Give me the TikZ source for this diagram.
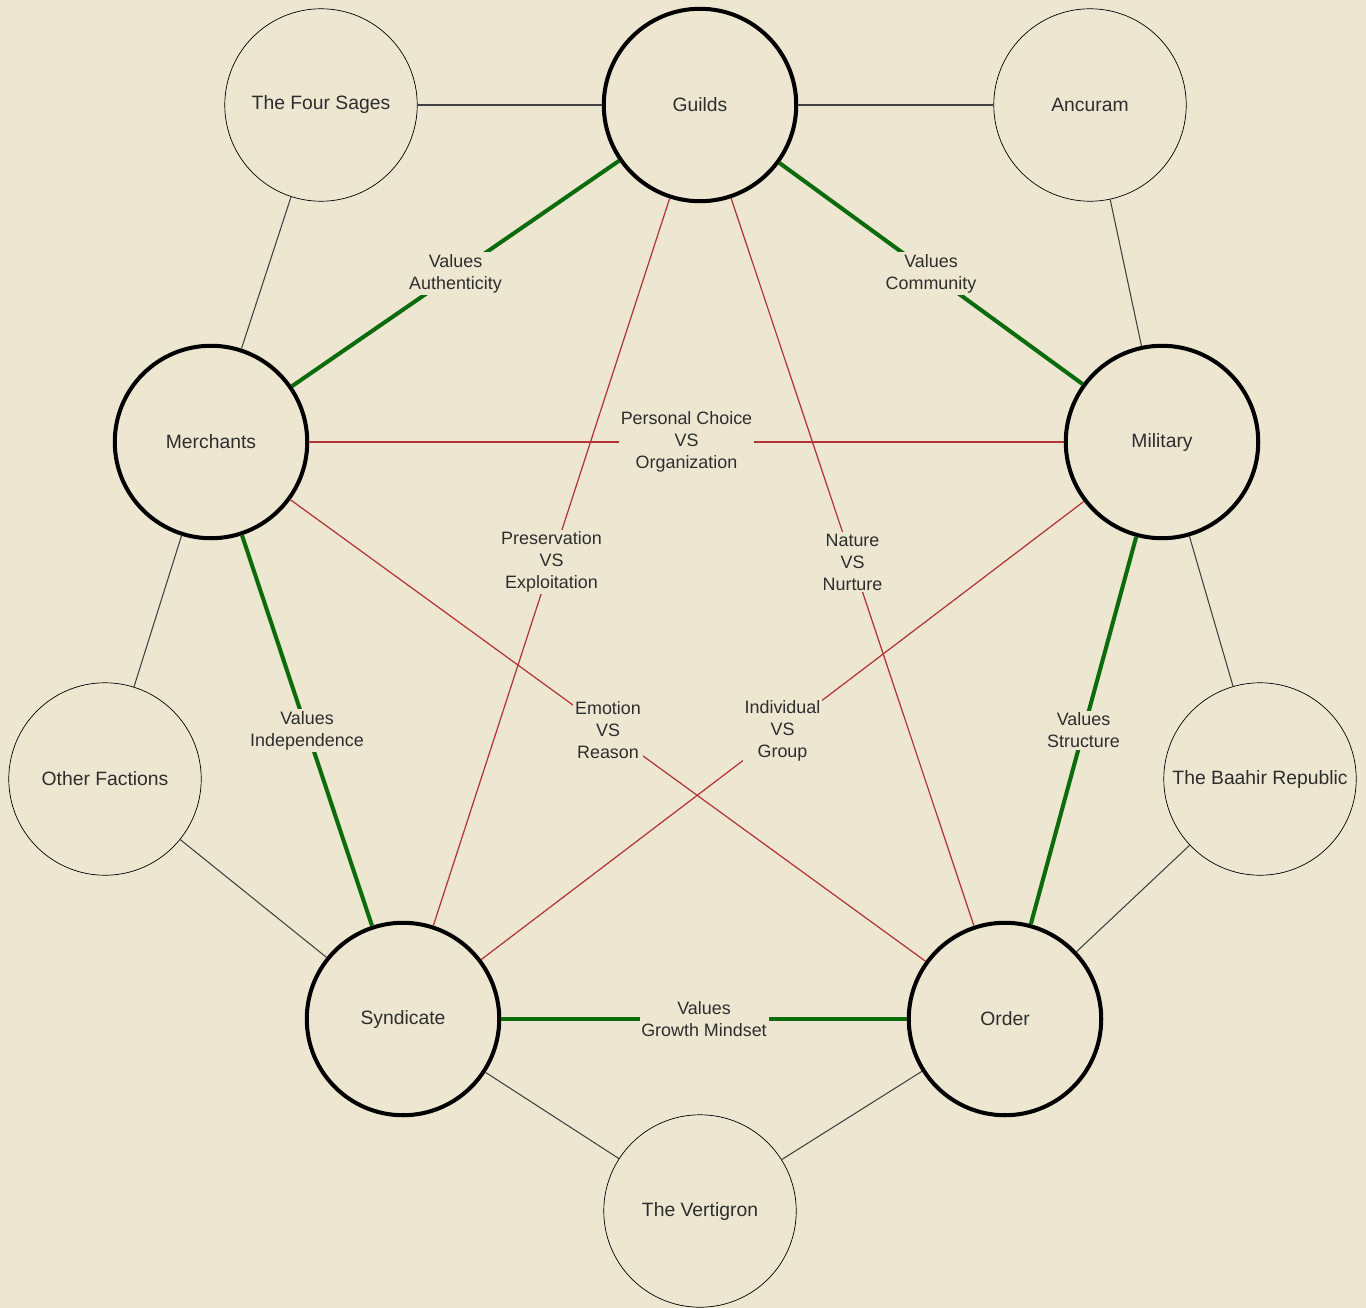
\documentclass[tikz,border=0pt]{standalone}
\usepackage{fontspec}
\setmainfont{Liberation Sans}
\definecolor{parchment}{RGB}{237,231,210}
\definecolor{valgreen}{RGB}{12,108,12}
\definecolor{vsred}{RGB}{178,52,52}
\definecolor{inkgray}{RGB}{45,45,45}
\begin{document}
\begin{tikzpicture}[
  x = 0.02cm, y = -0.02cm,
  every node/.style = {text=inkgray},
  faction/.style    = {draw, circle, thin, minimum size=3.85cm, inner sep=0pt,
                       font=\fontsize{11}{13}\selectfont},
  core/.style       = {faction, line width=2.3pt},
  link/.style       = {draw, line width=0.6pt, black!75},
  shared/.style     = {draw, line width=2.3pt, valgreen},
  opposed/.style    = {draw, line width=0.7pt, vsred},
  tag/.style        = {fill=parchment, inner sep=1pt, align=center,
                       font=\fontsize{10.2}{12.5}\selectfont},
]
\fill[parchment] (0,0) rectangle (1366,1308);
\useasboundingbox (0,0) rectangle (1366,1308);

% top row
\node[faction] (sages)    at ( 321,  105) {The Four Sages};
\node[core]    (guilds)   at ( 700,  105) {Guilds};
\node[faction] (ancuram)  at (1090,  105) {Ancuram};
% middle row
\node[core]    (merchants) at ( 211,  442) {Merchants};
\node[core]    (military)  at (1162,  442) {Military};
\node[faction] (others)    at ( 105,  779) {Other Factions};
\node[faction] (baahir)    at (1260,  779) {The Baahir Republic};
% bottom row
\node[core]    (syndicate) at ( 403, 1019) {Syndicate};
\node[core]    (order)     at (1005, 1019) {Order};
\node[faction] (vertigron) at ( 700, 1211) {The Vertigron};

% outer ring
\foreach \p/\c in {sages/guilds, guilds/ancuram, sages/merchants,
                   ancuram/military, merchants/others, military/baahir,
                   others/syndicate, baahir/order, syndicate/vertigron,
                   order/vertigron}
  \draw[link] (\p) -- (\c);

% shared values
\foreach \p/\c/\t in {guilds/merchants/{Values\\Authenticity},
                      guilds/military/{Values\\Community},
                      merchants/syndicate/{Values\\Independence},
                      military/order/{Values\\Structure},
                      syndicate/order/{Values\\Growth Mindset}}
  \draw[shared] (\p) -- node[tag] (v-\p-\c) {\t} (\c);

% oppositions
\foreach \p/\c/\t in {merchants/military/{Personal Choice\\VS\\Organization},
                      guilds/syndicate/{Preservation\\VS\\Exploitation},
                      guilds/order/{Nature\\VS\\Nurture},
                      merchants/order/{Emotion\\VS\\Reason},
                      military/syndicate/{Individual\\VS\\Group}}
  \draw[opposed] (\p) -- node[tag] (x-\p-\c) {\t} (\c);

\end{tikzpicture}
\end{document}
